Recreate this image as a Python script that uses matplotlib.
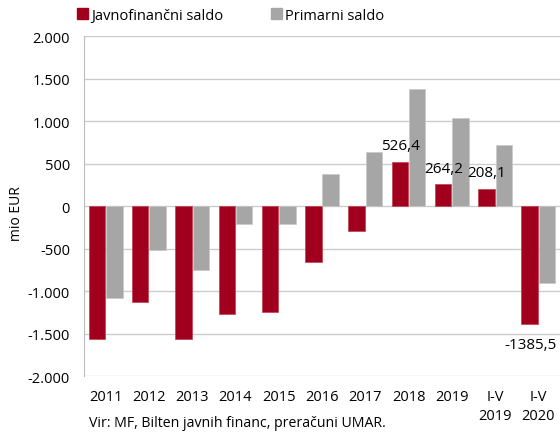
import matplotlib.pyplot as plt
import numpy as np
from matplotlib.patches import Patch

plt.rcParams['font.family'] = ['Open Sans', 'DejaVu Sans']

# Data (mio EUR)
categories = ['2011', '2012', '2013', '2014', '2015', '2016', '2017', '2018', '2019',
              'I-V\n2019', 'I-V\n2020']
javnofinancni = [-1561, -1122, -1560, -1263, -1247, -651, -294, 526.4, 264.2, 208.1, -1385.5]
primarni = [-1075, -510, -745, -212, -212, 380, 642, 1376, 1035, 721, -902]
labelled = {7: '526,4', 8: '264,2', 9: '208,1', 10: '-1385,5'}

red = '#A0001E'
grey = '#A6A6A6'

fig = plt.figure(figsize=(5.6, 4.35), dpi=100)
ax = fig.add_axes([0.15, 0.133, 0.85, 0.781])

x = np.arange(len(categories))
w = 0.38
ax.bar(x - w / 2 - 0.01, javnofinancni, w, color=red, edgecolor='#C04050', linewidth=0.5, zorder=3)
ax.bar(x + w / 2 + 0.01, primarni, w, color=grey, edgecolor='#C8C8C8', linewidth=0.5, zorder=3)

# value labels on selected bars
for i, txt in labelled.items():
    v = javnofinancni[i]
    off = 6 if v > 0 else -15
    ax.annotate(txt, (x[i] - w / 2, v), xytext=(0, off), textcoords='offset points',
                ha='center', va='bottom' if v > 0 else 'center', fontsize=11, zorder=4)

ax.set_xlim(-0.5, len(categories) - 0.5)
ax.set_ylim(-2000, 2000)
ax.set_yticks(np.arange(-2000, 2001, 500))
ax.set_yticklabels([f'{v:,}'.replace(',', '.') for v in range(-2000, 2001, 500)])
ax.set_xticks(x)
ax.set_xticklabels(categories, linespacing=1.4)
ax.set_ylabel('mio EUR', fontsize=10)
ax.yaxis.set_label_coords(-0.127, 0.48)

ax.grid(axis='y', color='#CCCCCC', linewidth=1, zorder=0)
ax.set_axisbelow(True)
for s in ['top', 'right', 'bottom']:
    ax.spines[s].set_visible(False)
ax.spines['left'].set_color('#BBBBBB')
ax.tick_params(axis='both', length=0, labelsize=10.5)
ax.tick_params(axis='x', pad=9)
ax.tick_params(axis='y', pad=10)

handles = [Patch(color=red, label='Javnofinančni saldo'),
           Patch(color=grey, label='Primarni saldo')]
fig.legend(handles=handles, loc='upper left', bbox_to_anchor=(0.114, 1.01), ncol=2,
           frameon=False, fontsize=10.5, handlelength=0.75, handleheight=0.75,
           handletextpad=0.2, columnspacing=3.3)

fig.text(0.159, 0.018, 'Vir: MF, Bilten javnih financ, preračuni UMAR.', fontsize=10.2)

plt.savefig('out.png', dpi=100)
